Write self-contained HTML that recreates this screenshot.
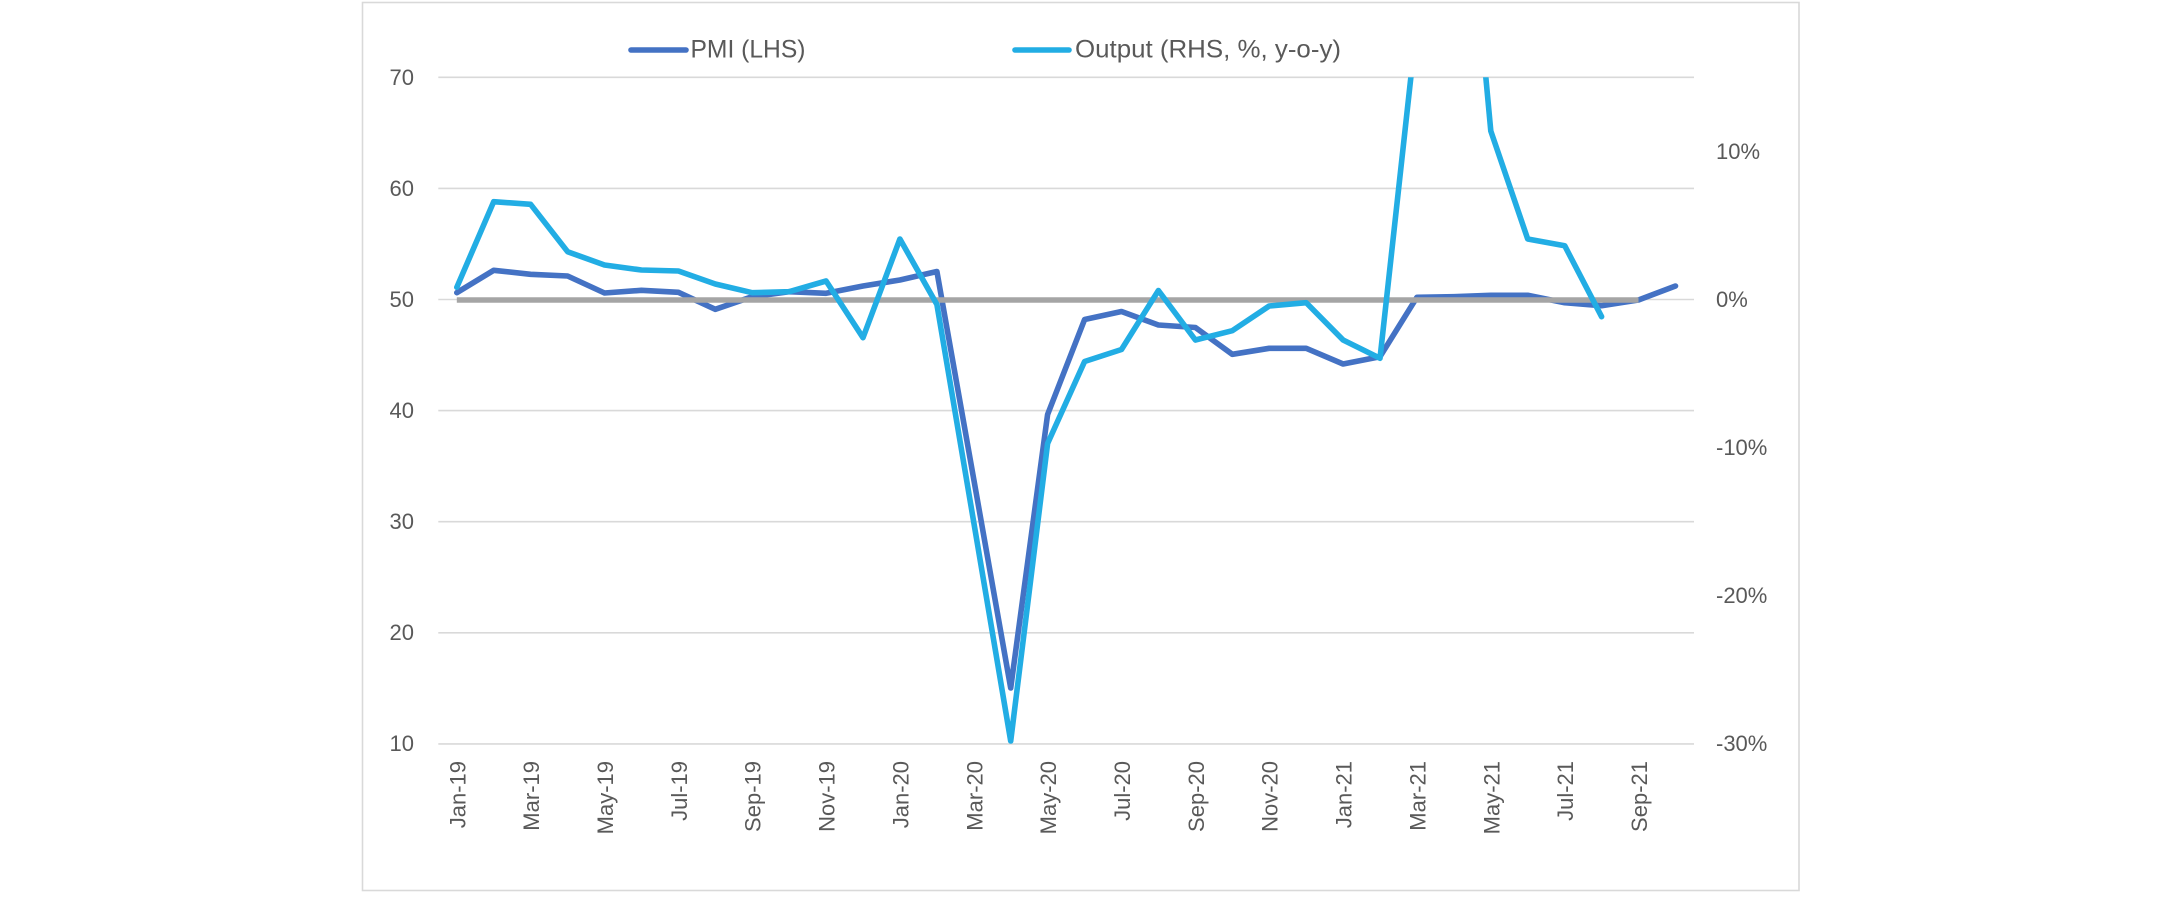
<!DOCTYPE html>
<html>
<head>
<meta charset="utf-8">
<style>
  html, body { margin: 0; padding: 0; background: #ffffff; }
  body { width: 2164px; height: 897px; overflow: hidden; }
  svg { display: block; }
  text { font-family: "Liberation Sans", "DejaVu Sans", sans-serif; fill: #595959; }
</style>
</head>
<body>
<svg width="2164" height="897" viewBox="0 0 2164 897" xmlns="http://www.w3.org/2000/svg">
  <rect x="0" y="0" width="2164" height="897" fill="#ffffff"/>
  <!-- chart frame -->
  <rect x="362.5" y="2.5" width="1436.5" height="888" fill="#ffffff" stroke="#D9D9D9" stroke-width="1.6"/>

  <!-- gridlines -->
  <g stroke="#D9D9D9" stroke-width="1.6">
    <line x1="438.3" y1="77.3" x2="1694" y2="77.3"/>
    <line x1="438.3" y1="188.4" x2="1694" y2="188.4"/>
    <line x1="438.3" y1="299.5" x2="1694" y2="299.5"/>
    <line x1="438.3" y1="410.6" x2="1694" y2="410.6"/>
    <line x1="438.3" y1="521.7" x2="1694" y2="521.7"/>
    <line x1="438.3" y1="632.8" x2="1694" y2="632.8"/>
    <line x1="438.3" y1="743.9" x2="1694" y2="743.9"/>
  </g>

  <!-- left axis labels -->
  <g font-size="22" text-anchor="end">
    <text x="414" y="85">70</text>
    <text x="414" y="196">60</text>
    <text x="414" y="307">50</text>
    <text x="414" y="418">40</text>
    <text x="414" y="529">30</text>
    <text x="414" y="640">20</text>
    <text x="414" y="751">10</text>
  </g>

  <!-- right axis labels -->
  <g font-size="22" text-anchor="start">
    <text x="1716" y="159">10%</text>
    <text x="1716" y="307">0%</text>
    <text x="1716" y="455">-10%</text>
    <text x="1716" y="603">-20%</text>
    <text x="1716" y="751">-30%</text>
  </g>

  <!-- x axis labels -->
  <g font-size="22" text-anchor="end">
    <text transform="translate(465.3,761) rotate(-90)">Jan-19</text>
    <text transform="translate(539.1,761) rotate(-90)">Mar-19</text>
    <text transform="translate(613.0,761) rotate(-90)">May-19</text>
    <text transform="translate(686.9,761) rotate(-90)">Jul-19</text>
    <text transform="translate(760.7,761) rotate(-90)">Sep-19</text>
    <text transform="translate(834.6,761) rotate(-90)">Nov-19</text>
    <text transform="translate(908.4,761) rotate(-90)">Jan-20</text>
    <text transform="translate(982.3,761) rotate(-90)">Mar-20</text>
    <text transform="translate(1056.1,761) rotate(-90)">May-20</text>
    <text transform="translate(1130.0,761) rotate(-90)">Jul-20</text>
    <text transform="translate(1203.9,761) rotate(-90)">Sep-20</text>
    <text transform="translate(1277.7,761) rotate(-90)">Nov-20</text>
    <text transform="translate(1351.6,761) rotate(-90)">Jan-21</text>
    <text transform="translate(1425.4,761) rotate(-90)">Mar-21</text>
    <text transform="translate(1499.3,761) rotate(-90)">May-21</text>
    <text transform="translate(1573.2,761) rotate(-90)">Jul-21</text>
    <text transform="translate(1647.0,761) rotate(-90)">Sep-21</text>
  </g>

  <defs>
    <clipPath id="plot">
      <rect x="430" y="77.3" width="1280" height="700"/>
    </clipPath>
  </defs>

  <!-- PMI series -->
  <polyline fill="none" stroke="#4472C4" stroke-width="5.6" stroke-linejoin="round" stroke-linecap="round"
    points="456.8,292.7 493.7,270.3 530.6,274.3 567.6,276 604.5,293 641.4,290.3 678.4,292.3 715.3,309.3 752.2,296.7 789.1,291.7 826.1,293.3 863.0,286 899.9,280 936.9,271.5 973.8,479.5 1010.7,688 1047.6,414.5 1084.6,319.5 1121.5,311.5 1158.4,325 1195.4,327.5 1232.3,354.3 1269.2,348.3 1306.2,348.3 1343.1,364 1380.0,356.7 1416.9,297.3 1453.9,296.7 1490.8,295.3 1527.7,295.3 1564.7,302.7 1601.6,305.7 1638.5,300 1675.5,286"/>

  <!-- zero line -->
  <line x1="456.8" y1="300" x2="1638.5" y2="300" stroke="#A5A5A5" stroke-width="5.6"/>

  <!-- Output series -->
  <polyline clip-path="url(#plot)" fill="none" stroke="#22ADE4" stroke-width="5.6" stroke-linejoin="round" stroke-linecap="round"
    points="456.8,287.3 493.7,201.7 530.6,204.3 567.6,251.7 604.5,265 641.4,270 678.4,271 715.3,284 752.2,292.7 789.1,291.7 826.1,281 863.0,337.7 899.9,239 936.9,304.5 973.8,522.5 1010.7,741 1047.6,443.5 1084.6,361.5 1121.5,349.5 1158.4,290.5 1195.4,340 1232.3,330.7 1269.2,306 1306.2,302.7 1343.1,340 1380.0,358.3 1416.9,22.3 1453.9,-267.7 1490.8,131 1527.7,239 1564.7,245.7 1601.6,316.7"/>

  <!-- legend -->
  <line x1="631" y1="50" x2="686" y2="50" stroke="#4472C4" stroke-width="5.6" stroke-linecap="round"/>
  <text x="690.5" y="57.5" font-size="25" textLength="115" lengthAdjust="spacingAndGlyphs">PMI (LHS)</text>
  <line x1="1015" y1="50" x2="1069" y2="50" stroke="#22ADE4" stroke-width="5.6" stroke-linecap="round"/>
  <text x="1075" y="57.5" font-size="25" textLength="266" lengthAdjust="spacingAndGlyphs">Output (RHS, %, y-o-y)</text>
</svg>
</body>
</html>
